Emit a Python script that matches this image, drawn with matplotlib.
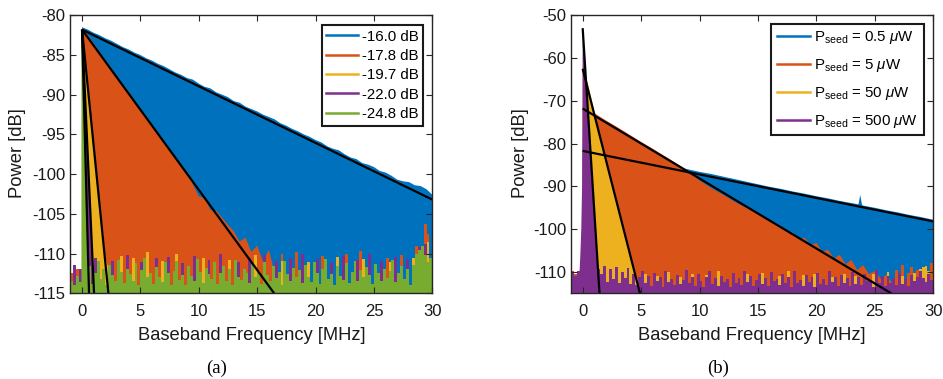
import numpy as np
import matplotlib
matplotlib.use("Agg")
import matplotlib.pyplot as plt
from matplotlib.lines import Line2D

plt.rcParams['font.family'] = ['Liberation Sans', 'DejaVu Sans']
plt.rcParams['mathtext.fontset'] = 'custom'
plt.rcParams['mathtext.rm'] = 'Liberation Sans'
plt.rcParams['mathtext.it'] = 'Liberation Sans:italic'
plt.rcParams['axes.unicode_minus'] = False

# ---------------- colours (MATLAB default order) ----------------
colors = ['#0072BD', '#D95319', '#EDB120', '#7E2F8E', '#77AC30']

# ---------------- shared frequency bins for the noise floor (MHz) ----------------
floor_freq = np.arange(-1.0, 30.001, 0.25)   # 125 bin edges

# =============== PANEL (a) ===============
labels_a = ['-16.0 dB', '-17.8 dB', '-19.7 dB', '-22.0 dB', '-24.8 dB']

# envelopes (peak part of each spectrum)
a_blue_f = [0.0, 0.5, 1.0, 1.5, 2.0, 2.5, 3.0, 3.5, 4.0, 4.5, 5.0, 5.5, 6.0, 6.5, 7.0, 7.5,
            8.0, 8.5, 9.0, 9.5, 10.0, 10.5, 11.0, 11.5, 12.0, 12.5, 13.0, 13.5, 14.0, 14.5,
            15.0, 15.5, 16.0, 16.5, 17.0, 17.5, 18.0, 18.5, 19.0, 19.5, 20.0, 20.5, 21.0,
            21.5, 22.0, 22.5, 23.0, 23.5, 24.0, 24.5, 25.0, 25.5, 26.0, 26.5, 27.0, 27.5,
            28.0, 28.5, 29.0, 29.5, 30.0]
a_blue_db = [-81.5, -81.8, -82.2, -82.5, -82.9, -83.2, -83.6, -84.0, -84.3, -84.7, -85.0,
             -85.4, -85.7, -86.1, -86.4, -86.8, -87.2, -87.5, -87.9, -88.1, -88.6, -89.0,
             -89.2, -89.7, -90.0, -90.3, -90.8, -91.0, -91.5, -91.8, -92.1, -92.5, -92.8,
             -93.1, -93.6, -93.9, -94.3, -94.6, -95.0, -95.3, -95.7, -96.0, -96.5, -96.8,
             -97.0, -97.5, -97.9, -98.1, -98.6, -98.8, -99.1, -99.6, -99.8, -100.2, -100.7,
             -100.9, -101.0, -101.4, -101.5, -101.9, -102.6]
a_orange_f = [0.0, 0.5, 1.0, 1.5, 2.0, 2.5, 3.0, 3.5, 4.0, 4.5, 5.0, 5.5, 6.0, 6.5, 7.0, 7.5,
              8.0, 8.5, 9.0, 9.5, 10.0, 10.5, 11.0, 11.5, 12.0, 12.5, 13.0, 13.5, 14.0,
              14.5, 15.0, 15.5, 16.0, 16.5, 17.0, 17.5]
a_orange_db = [-81.6, -82.5, -83.5, -84.6, -85.6, -86.6, -87.7, -88.7, -89.6, -90.7, -91.8,
               -92.7, -93.8, -94.8, -95.8, -96.9, -97.8, -99.2, -99.7, -101.3, -102.8,
               -103.0, -104.5, -104.6, -105.5, -106.4, -107.2, -108.5, -108.0, -109.8,
               -109.0, -111.0, -109.5, -112.5, -113.5, -115.5]
a_yellow_f = [0.0, 0.5, 1.0, 1.5, 1.8, 2.0, 2.3, 2.4]
a_yellow_db = [-81.8, -89.3, -96.5, -104.0, -107.0, -110.5, -112.0, -115.5]
a_purple_f = [0.0, 0.5, 0.9, 1.1]
a_purple_db = [-81.8, -98.0, -112.0, -115.5]
a_green_f = [-0.05, 0.0, 0.12, 0.6, 0.65]
a_green_db = [-81.8, -81.8, -83.5, -114.0, -115.5]

# noise floor per series (dB), one value per bin of floor_freq
a_blue_floor = [-114.0, -114.0, -114.0, -112.5] + [-114.0] * 121
a_orange_floor = [-112.5, -115.0, -112.0, -115.0, -115.0, -115.0, -115.0, -115.0, -115.0, -115.0,
                  -115.0, -115.0, -115.0, -115.0, -115.0, -115.0, -115.0, -115.0, -115.0, -115.0,
                  -115.0, -115.0, -115.0, -115.0, -115.0, -115.0, -115.0, -115.0, -115.0, -115.0,
                  -115.0, -115.0, -115.0, -115.0, -115.0, -115.0, -115.0, -115.0, -115.0, -115.0,
                  -115.0, -115.0, -115.0, -115.0, -115.0, -115.0, -115.0, -115.0, -115.0, -115.0,
                  -115.0, -115.0, -115.0, -115.0, -115.0, -115.0, -115.0, -115.0, -115.0, -115.0,
                  -115.0, -115.0, -115.0, -115.0, -115.0, -115.0, -115.0, -115.0, -115.0, -115.0,
                  -115.0, -115.0, -110.0, -115.0, -115.0, -115.0, -115.0, -109.8, -115.0, -115.0,
                  -115.0, -115.0, -115.0, -115.0, -115.0, -115.0, -110.3, -115.0, -115.0, -115.0,
                  -115.0, -115.0, -115.0, -115.0, -110.0, -115.0, -115.0, -115.0, -115.0, -109.7,
                  -115.0, -115.0, -115.0, -115.0, -115.0, -115.0, -115.0, -115.0, -110.6, -115.0,
                  -115.0, -115.0, -115.0, -110.2, -115.0, -115.0, -115.0, -115.0, -109.0, -115.0,
                  -115.0, -106.3, -107.5, -115.0, -115.0]
a_yellow_floor = [-115.0, -115.0, -115.0, -115.0, -115.0, -115.0, -111.0, -115.0, -115.0, -115.0,
                  -115.0, -110.5, -115.0, -115.0, -115.0, -115.0, -115.0, -110.3, -115.0, -115.0,
                  -115.0, -110.6, -115.0, -115.0, -115.0, -115.0, -109.8, -115.0, -115.0, -115.0,
                  -115.0, -110.9, -115.0, -115.0, -115.0, -115.0, -110.1, -115.0, -115.0, -115.0,
                  -115.0, -115.0, -115.0, -115.0, -115.0, -110.5, -115.0, -115.0, -115.0, -115.0,
                  -115.0, -115.0, -115.0, -115.0, -110.8, -115.0, -115.0, -115.0, -115.0, -115.0,
                  -115.0, -115.0, -115.0, -110.2, -115.0, -115.0, -115.0, -115.0, -115.0, -115.0,
                  -115.0, -115.0, -110.9, -115.0, -115.0, -115.0, -115.0, -115.0, -115.0, -115.0,
                  -115.0, -111.0, -115.0, -115.0, -115.0, -115.0, -115.0, -115.0, -115.0, -115.0,
                  -115.0, -110.4, -115.0, -115.0, -115.0, -115.0, -115.0, -115.0, -115.0, -115.0,
                  -110.7, -115.0, -115.0, -115.0, -115.0, -115.0, -115.0, -115.0, -115.0, -111.0,
                  -115.0, -115.0, -115.0, -115.0, -115.0, -115.0, -115.0, -110.5, -115.0, -115.0,
                  -109.4, -115.0, -108.6, -115.0, -115.0]
a_purple_floor = [-115.0, -111.4, -115.0, -112.0, -115.0, -115.0, -115.0, -115.0, -110.5, -115.0,
                  -115.0, -115.0, -115.0, -115.0, -110.9, -115.0, -115.0, -115.0, -115.0, -110.2,
                  -115.0, -115.0, -115.0, -115.0, -111.0, -115.0, -115.0, -115.0, -115.0, -110.6,
                  -115.0, -115.0, -115.0, -110.4, -115.0, -115.0, -115.0, -115.0, -111.2, -115.0,
                  -115.0, -115.0, -110.3, -115.0, -115.0, -115.0, -115.0, -110.8, -115.0, -115.0,
                  -115.0, -110.0, -115.0, -115.0, -115.0, -115.0, -115.0, -111.0, -115.0, -115.0,
                  -115.0, -110.5, -115.0, -115.0, -115.0, -115.0, -110.2, -115.0, -115.0, -115.0,
                  -110.9, -115.0, -115.0, -115.0, -115.0, -110.6, -115.0, -115.0, -115.0, -110.0,
                  -115.0, -115.0, -115.0, -115.0, -110.7, -115.0, -115.0, -115.0, -115.0, -111.1,
                  -115.0, -115.0, -115.0, -110.3, -115.0, -115.0, -115.0, -115.0, -110.8, -115.0,
                  -115.0, -115.0, -110.1, -115.0, -115.0, -115.0, -110.9, -115.0, -115.0, -115.0,
                  -115.0, -110.4, -115.0, -115.0, -115.0, -110.7, -115.0, -115.0, -115.0, -109.2,
                  -115.0, -108.8, -115.0, -115.0, -115.0]
a_green_floor = [-113.5, -114.0, -112.8, -113.6, -113.0, -112.9, -111.6, -113.8, -112.4, -110.9,
                 -113.2, -112.0, -113.9, -111.4, -112.7, -113.5, -110.8, -112.3, -113.7, -111.9,
                 -112.6, -113.4, -111.2, -113.9, -112.1, -110.6, -113.0, -112.5, -113.8, -111.7,
                 -112.9, -113.6, -111.0, -112.4, -113.9, -112.2, -110.9, -113.3, -112.7, -113.9,
                 -111.5, -112.8, -113.5, -110.7, -112.3, -113.7, -111.8, -112.6, -113.2, -111.1,
                 -113.8, -112.4, -111.6, -113.4, -112.0, -113.9, -110.8, -112.9, -113.3, -111.9,
                 -112.5, -113.7, -111.3, -113.0, -112.2, -113.8, -111.0, -112.7, -113.5, -111.6,
                 -113.1, -112.3, -113.9, -110.9, -112.6, -113.4, -111.8, -113.0, -112.1, -113.7,
                 -111.4, -112.9, -113.6, -111.1, -112.4, -113.8, -112.0, -110.7, -113.2, -112.6,
                 -113.9, -111.5, -112.8, -113.3, -111.2, -113.7, -112.3, -110.9, -113.5, -112.1,
                 -113.0, -111.7, -112.7, -113.8, -111.3, -112.5, -113.4, -111.9, -113.1, -112.2,
                 -110.8, -113.6, -112.4, -111.5, -113.2, -112.0, -113.9, -111.4, -110.0, -109.5,
                 -109.0, -110.2, -111.0, -110.5, -110.5]

# fitted lines (start / end points)
a_fit_f0 = [0.0, 0.0, 0.0, 0.0, 0.0]
a_fit_db0 = [-81.8, -81.8, -81.8, -81.8, -81.8]
a_fit_f1 = [30.0, 16.45, 2.26, 1.03, 0.6]
a_fit_db1 = [-103.2, -115.0, -115.0, -115.0, -115.0]

# =============== PANEL (b) ===============
labels_b = [r'P$_{\mathrm{seed}}$ = 0.5 $\mu$W', r'P$_{\mathrm{seed}}$ = 5 $\mu$W',
            r'P$_{\mathrm{seed}}$ = 50 $\mu$W', r'P$_{\mathrm{seed}}$ = 500 $\mu$W']

b_blue_f = [0, 1, 2, 3, 4, 5, 6, 7, 8, 9, 10, 11, 12, 13, 14, 15, 16, 17, 18, 19, 20, 21, 22,
            23, 23.6, 23.75, 23.9, 24, 25, 26, 27, 28, 29, 30]
b_blue_db = [-81.2, -81.7, -82.3, -82.8, -83.4, -83.9, -84.5, -85.0, -85.5, -86.0, -86.6,
             -87.1, -87.7, -88.3, -88.9, -89.5, -90.1, -90.6, -91.2, -91.7, -92.3, -92.8,
             -93.4, -93.9, -94.2, -92.0, -94.3, -94.5, -95.0, -95.6, -96.1, -96.7, -97.2, -97.8]
b_orange_f = [0, 1, 2, 3, 4, 5, 6, 7, 8, 9, 10, 11, 12, 13, 14, 15, 16, 17, 17.5, 18, 18.5, 19,
              19.5, 20, 20.5, 21, 21.5, 22, 22.5, 23, 23.5, 24, 24.5, 25, 25.5, 26, 26.5, 27, 27.5]
b_orange_db = [-71.5, -72.9, -74.6, -76.2, -77.9, -79.6, -81.2, -82.9, -84.6, -86.4, -88.6,
               -90.4, -91.9, -93.6, -95.0, -96.3, -97.8, -99.3, -100.6, -100.8, -102.3,
               -102.0, -103.8, -103.2, -105.3, -104.8, -106.9, -106.0, -108.2, -107.2,
               -109.6, -108.4, -110.5, -109.8, -111.6, -110.7, -112.8, -113.5, -115.5]
b_yellow_f = [0.0, 0.3, 0.5, 1.0, 1.5, 2.0, 2.5, 3.0, 3.5, 4.0, 4.5, 4.9, 5.1]
b_yellow_db = [-62.0, -64.5, -66.5, -72.6, -78.2, -83.6, -88.9, -94.5, -99.5, -105.0,
               -110.0, -113.5, -115.5]
b_purple_f = [-0.3, -0.2, -0.12, -0.05, -0.02, 0.0, 0.2, 0.5, 0.8, 1.0, 1.2, 1.44, 1.5]
b_purple_db = [-112.0, -106.0, -100.0, -90.0, -75.0, -53.0, -61.6, -74.5, -87.4, -96.0,
               -104.3, -114.0, -115.5]

b_blue_floor = [-113.0, -113.0, -113.0, -113.0] + [-114.0] * 121
b_orange_floor = [-109.8, -110.6, -112.0] + [-115.0] * 108 + [-109.5, -115.0, -108.3, -115.0,
                  -110.2, -108.8, -115.0, -109.6, -115.0, -115.0, -109.2, -115.0, -108.0, -115.0]
b_yellow_floor = [-110.8, -115.0, -111.5, -112.5, -115.0, -115.0, -115.0, -115.0, -115.0, -115.0,
                  -115.0, -115.0, -115.0, -115.0, -115.0, -115.0, -115.0, -115.0, -115.0, -115.0,
                  -115.0, -115.0, -115.0, -115.0, -115.0, -110.5, -115.0, -115.0, -115.0, -111.0,
                  -115.0, -115.0, -115.0, -110.0, -115.0, -115.0, -115.0, -111.3, -115.0, -115.0,
                  -115.0, -110.4, -115.0, -115.0, -115.0, -115.0, -110.8, -115.0, -115.0, -115.0,
                  -109.8, -115.0, -115.0, -115.0, -115.0, -110.9, -115.0, -115.0, -115.0, -115.0,
                  -110.5, -115.0, -115.0, -115.0, -115.0, -110.3, -115.0, -115.0, -115.0, -115.0,
                  -115.0, -111.0, -115.0, -115.0, -109.9, -115.0, -115.0, -115.0, -115.0, -110.7,
                  -115.0, -115.0, -115.0, -110.4, -115.0, -115.0, -115.0, -115.0, -115.0, -111.1,
                  -115.0, -115.0, -115.0, -110.5, -115.0, -115.0, -115.0, -110.9, -115.0, -115.0,
                  -115.0, -115.0, -115.0, -110.6, -115.0, -115.0, -115.0, -115.0, -110.0, -115.0,
                  -115.0, -115.0, -115.0, -111.0, -115.0, -115.0, -115.0, -110.3, -115.0, -109.4,
                  -108.8, -108.6, -109.8, -115.0, -115.0]
b_purple_floor = [-110.2, -111.0, -109.8, -111.5, -111.0, -112.0, -110.5, -108.8, -111.8, -109.2,
                  -110.6, -108.5, -112.3, -109.4, -111.7, -108.9, -112.5, -110.1, -111.4, -109.0,
                  -112.8, -110.4, -113.0, -111.2, -109.7, -112.6, -111.0, -113.3, -110.3, -112.1,
                  -111.3, -113.5, -109.9, -112.4, -111.6, -113.1, -110.7, -112.9, -111.8, -109.6,
                  -112.7, -111.2, -113.4, -110.5, -112.2, -113.6, -111.1, -109.8, -112.8, -111.5,
                  -113.2, -110.9, -112.3, -111.7, -113.5, -110.2, -112.6, -111.4, -113.0, -109.9,
                  -112.4, -111.0, -113.3, -111.8, -110.4, -112.9, -111.5, -113.4, -110.0, -112.2,
                  -111.6, -113.1, -110.6, -112.7, -111.3, -113.5, -109.7, -112.5, -111.9, -113.2,
                  -110.8, -112.3, -111.2, -113.6, -110.3, -112.8, -111.7, -113.0, -109.9, -112.4,
                  -111.1, -113.3, -110.7, -112.6, -111.5, -113.4, -110.1, -112.9, -111.3, -113.1,
                  -110.5, -112.2, -111.8, -113.5, -109.6, -112.7, -111.0, -113.2, -110.9, -112.5,
                  -111.4, -113.0, -110.2, -112.8, -111.6, -113.3, -110.8, -112.1, -111.2, -109.9,
                  -111.5, -112.3, -110.6, -111.8, -111.8]

b_fit_f0 = [0.0, 0.0, 0.0, 0.0]
b_fit_db0 = [-81.7, -71.8, -62.5, -53.0]
b_fit_f1 = [30.0, 26.4, 4.9, 1.44]
b_fit_db1 = [-98.2, -115.0, -115.0, -115.0]

# ---------------- drawing ----------------
fig = plt.figure(figsize=(9.43, 3.79), dpi=100)
ax_a = fig.add_axes([0.0746, 0.2261, 0.3839, 0.7335])
ax_b = fig.add_axes([0.6055, 0.2261, 0.3842, 0.7335])

BOTTOM = -125.0


def draw_series(ax, env_f, env_db, floor_db, color):
    ax.fill_between(floor_freq, floor_db, BOTTOM, step='post', color=color, lw=0)
    xs = [env_f[0]] + list(env_f) + [env_f[-1]]
    ys = [BOTTOM] + list(env_db) + [BOTTOM]
    ax.fill(xs, ys, color=color, lw=0)


a_series = [(a_blue_f, a_blue_db, a_blue_floor), (a_orange_f, a_orange_db, a_orange_floor),
            (a_yellow_f, a_yellow_db, a_yellow_floor), (a_purple_f, a_purple_db, a_purple_floor),
            (a_green_f, a_green_db, a_green_floor)]
for (f, d, fl), c in zip(a_series, colors):
    draw_series(ax_a, f, d, fl, c)
for f0, d0, f1, d1 in zip(a_fit_f0, a_fit_db0, a_fit_f1, a_fit_db1):
    ax_a.plot([f0, f1], [d0, d1], color='black', lw=1.6, solid_capstyle='butt')

b_series = [(b_blue_f, b_blue_db, b_blue_floor), (b_orange_f, b_orange_db, b_orange_floor),
            (b_yellow_f, b_yellow_db, b_yellow_floor), (b_purple_f, b_purple_db, b_purple_floor)]
for (f, d, fl), c in zip(b_series, colors):
    draw_series(ax_b, f, d, fl, c)
for f0, d0, f1, d1 in zip(b_fit_f0, b_fit_db0, b_fit_f1, b_fit_db1):
    ax_b.plot([f0, f1], [d0, d1], color='black', lw=1.6, solid_capstyle='butt')

ax_a.set_xlim(-1, 30)
ax_a.set_ylim(-115, -80)
ax_a.set_yticks(np.arange(-115, -79, 5))
ax_b.set_xlim(-1, 30)
ax_b.set_ylim(-115, -50)
ax_b.set_yticks(np.arange(-110, -49, 10))

TICK_FS = 12
LABEL_FS = 13.2
LEG_FS = 10.8
tick_col = '#262626'
txt_col = '#1a1a1a'
for ax in (ax_a, ax_b):
    ax.set_xticks(np.arange(0, 31, 5))
    ax.tick_params(direction='in', top=True, right=True, length=4, width=0.8,
                   labelsize=TICK_FS, colors=tick_col, labelcolor=txt_col)
    ax.tick_params(axis='x', pad=8)
    ax.tick_params(axis='y', pad=3.5)
    for sp in ax.spines.values():
        sp.set_linewidth(1.0)
        sp.set_color(tick_col)
        sp.set_zorder(5)
    ax.set_xlabel('Baseband Frequency [MHz]', fontsize=LABEL_FS, color=txt_col)
    ax.set_ylabel('Power [dB]', fontsize=LABEL_FS, color=txt_col)
    ax.xaxis.set_label_coords(0.5, -0.122)

ax_a.yaxis.set_label_coords(-0.122, 0.505)
ax_b.yaxis.set_label_coords(-0.116, 0.505)

hand_a = [Line2D([], [], color=c, lw=1.8) for c in colors]
leg_a = ax_a.legend(hand_a, labels_a, loc='upper right', bbox_to_anchor=(0.975, 0.965),
                    borderaxespad=0, fontsize=LEG_FS, frameon=True, fancybox=False,
                    edgecolor=txt_col, framealpha=1, handlelength=2.15, handletextpad=0.25,
                    labelspacing=0.36, borderpad=0.3)
leg_a.get_frame().set_linewidth(1.5)

hand_b = [Line2D([], [], color=c, lw=1.8) for c in colors[:4]]
leg_b = ax_b.legend(hand_b, labels_b, loc='upper right', bbox_to_anchor=(0.974, 0.97),
                    borderaxespad=0, fontsize=LEG_FS, frameon=True, fancybox=False,
                    edgecolor=txt_col, framealpha=1, handlelength=2.25, handletextpad=0.25,
                    labelspacing=0.72, borderpad=0.38)
leg_b.get_frame().set_linewidth(1.5)

fig.text(0.230, 0.029, '(a)', ha='center', va='center', fontsize=13.5,
         family=['Liberation Serif', 'DejaVu Serif'])
fig.text(0.761, 0.029, '(b)', ha='center', va='center', fontsize=13.5,
         family=['Liberation Serif', 'DejaVu Serif'])

fig.savefig('out.png', dpi=100)
